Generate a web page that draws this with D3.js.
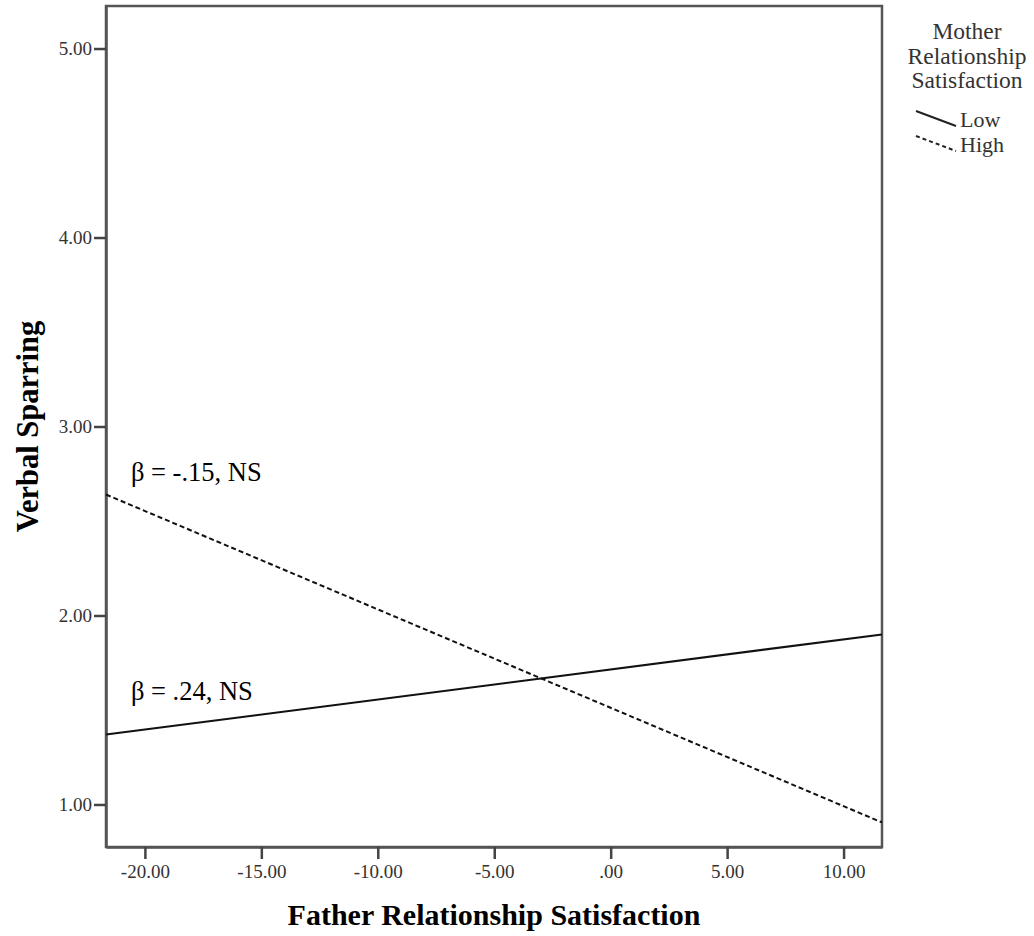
<!DOCTYPE html>
<html>
<head>
<meta charset="utf-8">
<script src="https://cdn.jsdelivr.net/npm/d3@7"></script>
<style>
  body { margin: 0; background: #fff; }
  svg { font-family: "Liberation Serif", "Times New Roman", serif; }
</style>
</head>
<body>
<svg id="chart" width="1034" height="936"></svg>
<script>
// data
var xDomain = [-21.67, 11.65];
var yDomain = [0.775, 5.225];
var xTicks = [-20, -15, -10, -5, 0, 5, 10];
var yTicks = [1, 2, 3, 4, 5];
var seriesNames = ["Low", "High"];
var lineX = [-21.67, 11.65];
var lowValues = [1.37, 1.90];
var highValues = [2.64, 0.905];
var annotText = ["β = -.15, NS", "β = .24, NS"];
var annotX = [-20.6, -20.6];
var annotY = [2.71, 1.555];

var margin = { top: 6, right: 152, bottom: 89, left: 106 },
    width = 1034 - margin.left - margin.right,
    height = 936 - margin.top - margin.bottom;

var svg = d3.select("#chart");
var g = svg.append("g")
    .attr("transform", "translate(" + margin.left + "," + margin.top + ")");

var x = d3.scaleLinear().domain(xDomain).range([0, width]);
var y = d3.scaleLinear().domain(yDomain).range([height, 0]);

// SPSS style: .00, -5.00 with a plain hyphen
function fmt(v) {
    var s = v.toFixed(2);
    return s.replace(/^(-?)0\./, "$1.");
}

// frame
g.append("rect")
    .attr("width", width).attr("height", height)
    .attr("fill", "none").attr("stroke", "#555").attr("stroke-width", 2.5);

var xAxis = g.append("g")
    .attr("transform", "translate(0," + height + ")")
    .call(d3.axisBottom(x).tickValues(xTicks).tickFormat(fmt)
        .tickSize(12).tickSizeOuter(0).tickPadding(6));
var yAxis = g.append("g")
    .call(d3.axisLeft(y).tickValues(yTicks).tickFormat(fmt)
        .tickSize(12).tickSizeOuter(0).tickPadding(2));

[xAxis, yAxis].forEach(function(a) {
    a.select(".domain").attr("stroke", "#555").attr("stroke-width", 2.5);
    a.selectAll(".tick line").attr("stroke", "#444").attr("stroke-width", 2.5);
    a.selectAll(".tick text")
        .attr("fill", "#333")
        .style("font-family", "Liberation Serif")
        .style("font-size", "19px");
});

// lines
var line = d3.line()
    .x(function(d) { return x(d[0]); })
    .y(function(d) { return y(d[1]); });

var series = [lowValues, highValues].map(function(vals, i) {
    return { name: seriesNames[i], points: lineX.map(function(xv, j) { return [xv, vals[j]]; }) };
});

g.selectAll(".series")
    .data(series)
    .enter().append("path")
    .attr("class", "series")
    .attr("d", function(d) { return line(d.points); })
    .attr("fill", "none")
    .attr("stroke", "#111")
    .attr("stroke-width", 2)
    .attr("stroke-dasharray", function(d, i) { return i === 1 ? "5,3" : null; });

// annotations
g.selectAll(".annot")
    .data(annotText)
    .enter().append("text")
    .attr("class", "annot")
    .attr("x", function(d, i) { return x(annotX[i]); })
    .attr("y", function(d, i) { return y(annotY[i]); })
    .attr("fill", "#000")
    .style("font-size", "26.5px")
    .text(function(d) { return d; });

// axis titles
svg.append("text")
    .attr("x", margin.left + width / 2)
    .attr("y", 925)
    .attr("text-anchor", "middle")
    .style("font-size", "30px")
    .style("font-weight", "bold")
    .text("Father Relationship Satisfaction");

svg.append("text")
    .attr("transform", "translate(38," + (margin.top + height / 2) + ") rotate(-90)")
    .attr("text-anchor", "middle")
    .style("font-size", "30.5px")
    .style("font-weight", "bold")
    .text("Verbal Sparring");

// legend
var legend = svg.append("g").attr("transform", "translate(967,0)");
legend.selectAll(".ltitle")
    .data(["Mother", "Relationship", "Satisfaction"])
    .enter().append("text")
    .attr("x", 0)
    .attr("y", function(d, i) { return 39 + i * 24.5; })
    .attr("text-anchor", "middle")
    .attr("fill", "#333")
    .style("font-size", "23.5px")
    .text(function(d) { return d; });

var items = legend.selectAll(".litem")
    .data(seriesNames)
    .enter().append("g")
    .attr("transform", function(d, i) { return "translate(-51," + (111 + i * 25) + ")"; });
items.append("line")
    .attr("x1", 0).attr("y1", 0).attr("x2", 40).attr("y2", 15)
    .attr("stroke", "#222").attr("stroke-width", 2)
    .attr("stroke-dasharray", function(d, i) { return i === 1 ? "4,3" : null; });
items.append("text")
    .attr("x", 44).attr("y", 16)
    .attr("fill", "#333")
    .style("font-size", "22px")
    .text(function(d) { return d; });
</script>
</body>
</html>
